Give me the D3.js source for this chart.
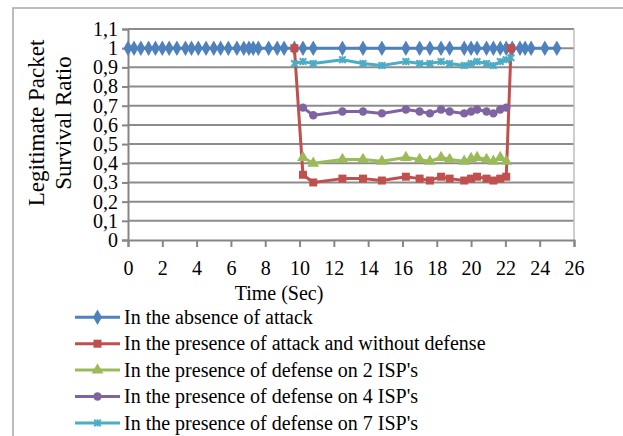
<!DOCTYPE html>
<html><head><meta charset="utf-8">
<script src="https://cdn.jsdelivr.net/npm/d3@7"></script>
<style>body{margin:0;background:#fff}svg{display:block}text{font-family:"Liberation Serif","Times New Roman",serif;fill:#000}</style>
</head><body><svg id="c" width="623" height="436"></svg>
<script>
const blueTimes = [0,0.35,0.75,1.2,1.6,2.0,2.4,2.85,3.35,3.7,4.1,4.55,5.0,5.4,5.85,6.35,6.75,7.05,7.3,7.6,8.2,8.7,9.1,9.7,10.2,10.8,12.5,13.7,14.8,16.2,17.0,17.6,18.25,18.75,19.6,20.0,20.35,20.9,21.3,21.7,22.05,22.4,22.85,23.15,23.5,24.3,25.0];
const blueValues = blueTimes.map(() => 1);
const attackTimes = [10.2,10.8,12.5,13.7,14.8,16.2,17.0,17.6,18.25,18.75,19.6,20.0,20.35,20.9,21.3,21.7,22.05];
const redTimes = [9.7, ...attackTimes, 22.33];
const redValues = [1,0.34,0.30,0.32,0.32,0.31,0.33,0.32,0.31,0.33,0.32,0.31,0.32,0.33,0.32,0.31,0.32,0.33,1];
const greenValues = [0.43,0.40,0.42,0.42,0.41,0.43,0.42,0.41,0.43,0.42,0.41,0.425,0.43,0.42,0.41,0.43,0.41];
const purpleValues = [0.69,0.65,0.67,0.67,0.66,0.68,0.67,0.66,0.68,0.67,0.66,0.67,0.68,0.67,0.66,0.68,0.69];
const cyanTimes = [9.7, ...attackTimes, 22.33];
const cyanValues = [0.92,0.93,0.92,0.94,0.92,0.91,0.93,0.92,0.92,0.93,0.92,0.91,0.92,0.93,0.92,0.91,0.93,0.94,0.95];
const xTicks = [0,2,4,6,8,10,12,14,16,18,20,22,24,26];
const yTicks = [0,0.1,0.2,0.3,0.4,0.5,0.6,0.7,0.8,0.9,1,1.1];
const seriesNames = ["In the absence of attack","In the presence of attack and without defense","In the presence of defense on 2 ISP's","In the presence of defense on 4 ISP's","In the presence of defense on 7 ISP's"];
const colors = ["#4F81BD","#C0504D","#9BBB59","#8064A2","#4BACC6"];
const markers = ["diamond","square","triangle","circle","star"];

const series = [
  {t: blueTimes, v: blueValues},
  {t: redTimes, v: redValues},
  {t: attackTimes, v: greenValues},
  {t: attackTimes, v: purpleValues},
  {t: cyanTimes, v: cyanValues}
].map((s,i)=>({name: seriesNames[i], color: colors[i], marker: markers[i], pts: s.t.map((t,j)=>[t,s.v[j]])}));

const svg = d3.select("#c");
const x = d3.scaleLinear().domain([0,26]).range([128,574]);
const y = d3.scaleLinear().domain([0,1.1]).range([240,29]);
const fmt = d => d===0?"0":(d===1?"1":d3.format(".1f")(d).replace(".",","));

// outer border
svg.append("rect").attr("x",13).attr("y",8).attr("width",640).attr("height",460)
  .attr("fill","none").attr("stroke","#a6a6a6").attr("stroke-width",1.5);

// gridlines
svg.append("g").selectAll("line").data(yTicks.filter(d=>d>0)).join("line")
  .attr("x1",128).attr("x2",574).attr("y1",d=>y(d)).attr("y2",d=>y(d))
  .attr("stroke","#8c8c8c").attr("stroke-width",2);
// right border of plot
svg.append("line").attr("x1",574).attr("x2",574).attr("y1",y(1.1)).attr("y2",240)
  .attr("stroke","#bfbfbf").attr("stroke-width",1.5);

// axes
const xAxis = d3.axisBottom(x).tickValues(xTicks).tickSize(7).tickPadding(14).tickFormat(d=>d);
const gx = svg.append("g").attr("transform","translate(0,240)").call(xAxis);
gx.select(".domain").attr("stroke","#868686").attr("stroke-width",2);
gx.selectAll(".tick line").attr("stroke","#868686").attr("stroke-width",2);
gx.selectAll("text").attr("font-size",20).attr("font-family","Liberation Serif").attr("fill","#000");
const yAxis = d3.axisLeft(y).tickValues(yTicks).tickSize(6).tickPadding(4).tickFormat(fmt);
const gy = svg.append("g").attr("transform","translate(128,0)").call(yAxis);
gy.select(".domain").attr("stroke","#868686").attr("stroke-width",2);
gy.selectAll(".tick line").attr("stroke","#868686").attr("stroke-width",2);
gy.selectAll("text").attr("font-size",20).attr("font-family","Liberation Serif").attr("fill","#000");

// titles
svg.append("text").attr("x",279).attr("y",300).attr("text-anchor","middle").attr("font-size",20).text("Time (Sec)");
const yt = svg.append("text").attr("transform","translate(44,123) rotate(-90)").attr("text-anchor","middle").attr("font-size",23);
yt.append("tspan").attr("x",0).attr("dy",0).text("Legitimate Packet");
yt.append("tspan").attr("x",0).attr("dy",27).text("Survival Ratio");

function drawMarker(g, type, color, cx, cy){
  if(type==="diamond") g.append("path").attr("d",d3.symbol(d3.symbolDiamond,70)()).attr("transform",`translate(${cx},${cy})`).attr("fill",color);
  else if(type==="square") g.append("rect").attr("x",cx-4).attr("y",cy-4).attr("width",8).attr("height",8).attr("fill",color);
  else if(type==="triangle") g.append("path").attr("d",d3.symbol(d3.symbolTriangle,60)()).attr("transform",`translate(${cx},${cy})`).attr("fill",color);
  else if(type==="circle") g.append("circle").attr("cx",cx).attr("cy",cy).attr("r",4.2).attr("fill",color);
  else if(type==="star"){
    g.append("path").attr("d",d3.symbol(d3.symbolTimes,30)()).attr("transform",`translate(${cx},${cy})`).attr("fill","none").attr("stroke",color).attr("stroke-width",2);
    g.append("line").attr("x1",cx).attr("x2",cx).attr("y1",cy-3.5).attr("y2",cy+3.5).attr("stroke",color).attr("stroke-width",2);
  }
}

const line = d3.line().x(d=>x(d[0])).y(d=>y(d[1]));
const plot = svg.append("g");
series.forEach(s=>{
  const g = plot.append("g");
  g.append("path").attr("d",line(s.pts)).attr("fill","none").attr("stroke",s.color).attr("stroke-width",3).attr("stroke-linejoin","round");
  s.pts.forEach(p=>drawMarker(g,s.marker,s.color,x(p[0]),y(p[1])));
});

// legend
const leg = svg.append("g");
series.forEach((s,i)=>{
  const cy = 317.3 + i*26.4;
  leg.append("line").attr("x1",75).attr("x2",120).attr("y1",cy).attr("y2",cy).attr("stroke",s.color).attr("stroke-width",3);
  drawMarker(leg,s.marker,s.color,97.5,cy);
  leg.append("text").attr("x",124).attr("y",cy).attr("dy","0.33em").attr("font-size",20).text(s.name);
});
</script></body></html>
